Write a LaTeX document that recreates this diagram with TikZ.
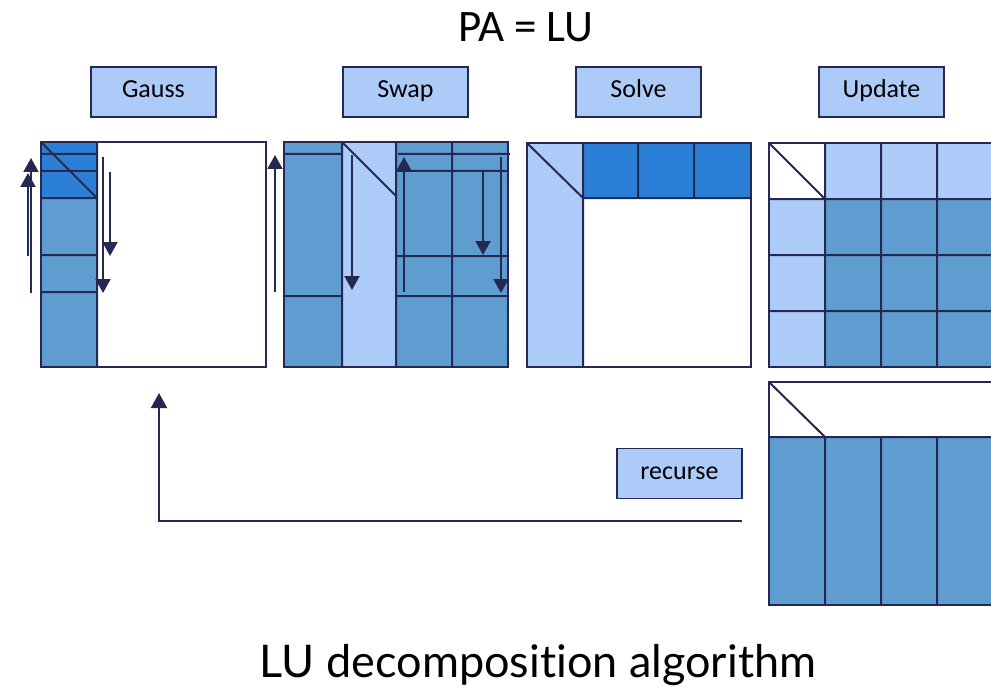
\documentclass[tikz,border=0pt]{standalone}
\usepackage{fontspec}
\setmainfont{Carlito}
\newfontfamily\gillfont[Ligatures=NoCommon]{Lato}
\usetikzlibrary{arrows.meta}
\definecolor{navy}{HTML}{252850}
\definecolor{darkb}{HTML}{2C7FD7}
\definecolor{medb}{HTML}{5F9DD1}
\definecolor{lightb}{HTML}{ADCBF8}
\tikzset{
  grid/.style={draw=navy, line width=2pt},
  frame/.style={draw=navy, line width=2.5pt},
  arr/.style={draw=navy, line width=2pt, -{Triangle[width=15pt,length=14pt]}},
  label/.style={draw=navy, line width=1.5pt, fill=lightb, minimum width=125pt, minimum height=50pt, inner sep=0pt, text height=16.5pt, text depth=4.5pt, font=\fontsize{26}{30}\selectfont, text=black},
}
\begin{document}
\begin{tikzpicture}[x=1pt,y=-1pt]
\useasboundingbox (0,0) rectangle (991,690);
\clip (0,0) rectangle (991,690);
\fill[white] (0,0) rectangle (991,690);

% titles
\node[anchor=base, font=\fontsize{45}{50}\selectfont] (title) at (526,42) {PA = LU};
\node[anchor=base, font=\gillfont\fontsize{45}{50}\selectfont] (caption) at (538,677) {LU decomposition algorithm};

% label boxes
\node[label] (gauss) at (153.5,92) {Gauss};
\node[label] (swap) at (405.5,92) {Swap};
\node[label] (solve) at (638.5,92) {Solve};
\node[label] (update) at (881.5,92) {Update};
\node[label] (recurse) at (679.5,473.5) {recurse};

% ---- Gauss panel
\fill[white] (41,142) rectangle (266,367);
\fill[medb] (41,198) rectangle (97,367);
\fill[darkb] (41,142) rectangle (97,198);
\draw[grid] (41,154) -- (97,154) (41,171) -- (97,171) (41,198) -- (97,198)
            (41,255) -- (97,255) (41,292) -- (97,292)
            (41,142) -- (97,198) (97,142) -- (97,367);
\draw[frame] (41,142) rectangle (266,367);
\coordinate (g1s) at (31,293); \coordinate (g1e) at (31,158);
\coordinate (g2s) at (28,256); \coordinate (g2e) at (28,173);
\coordinate (g3s) at (103,157); \coordinate (g3e) at (103,293);
\coordinate (g4s) at (110,172); \coordinate (g4e) at (110,256);
\coordinate (g5s) at (275,292); \coordinate (g5e) at (275,155);
\draw[arr] (g1s) -- (g1e);
\draw[arr] (g2s) -- (g2e);
\draw[arr] (g3s) -- (g3e);
\draw[arr] (g4s) -- (g4e);
\draw[arr] (g5s) -- (g5e);

% ---- Swap panel
\fill[medb] (284,142) rectangle (508,367);
\fill[lightb] (342,142) rectangle (396,367);
\draw[grid] (342,142) -- (342,367) (396,142) -- (396,367) (452,142) -- (452,367)
            (284,154) -- (342,154) (284,296) -- (342,296)
            (398,154) -- (510,154) (396,171) -- (508,171)
            (396,256) -- (508,256) (396,296) -- (508,296)
            (342,142) -- (396,196);
\draw[frame] (284,142) rectangle (508,367);
\coordinate (s1s) at (352,155); \coordinate (s1e) at (352,290);
\coordinate (s2s) at (404,292); \coordinate (s2e) at (404,157);
\coordinate (s3s) at (483,171); \coordinate (s3e) at (483,255);
\coordinate (s4s) at (501,157); \coordinate (s4e) at (501,293);
\draw[arr] (s1s) -- (s1e);
\draw[arr] (s2s) -- (s2e);
\draw[arr] (s3s) -- (s3e);
\draw[arr] (s4s) -- (s4e);

% ---- Solve panel
\fill[white] (527,143) rectangle (751,367);
\fill[lightb] (527,143) rectangle (583,367);
\fill[darkb] (583,143) rectangle (751,198);
\draw[grid] (583,143) -- (583,367) (638,143) -- (638,198) (694,143) -- (694,198)
            (583,198) -- (751,198) (527,143) -- (583,198);
\draw[frame] (527,143) rectangle (751,367);

% ---- Update panel
\fill[medb] (769,143) rectangle (993,367);
\fill[lightb] (769,143) rectangle (993,199);
\fill[lightb] (769,143) rectangle (825,367);
\fill[white] (769,143) rectangle (825,199);
\draw[grid] (825,143) -- (825,367) (881,143) -- (881,367) (937,143) -- (937,367)
            (769,199) -- (993,199) (769,255) -- (993,255) (769,311) -- (993,311)
            (769,143) -- (825,199);
\draw[frame] (769,143) rectangle (993,367);

% ---- bottom panel
\fill[white] (769,382) rectangle (993,437);
\fill[medb] (769,437) rectangle (993,605);
\draw[grid] (825,437) -- (825,605) (881,437) -- (881,605) (937,437) -- (937,605)
            (769,437) -- (993,437) (769,382) -- (825,437);
\draw[frame] (769,382) rectangle (993,605);

% ---- recurse connector
\coordinate (rs) at (742,521);
\coordinate (rc) at (159,521);
\coordinate (re) at (159,393);
\draw[draw=navy, line width=2pt, -{Triangle[width=16pt,length=15pt]}] (rs) -- (rc) -- (re);
\end{tikzpicture}
\end{document}
